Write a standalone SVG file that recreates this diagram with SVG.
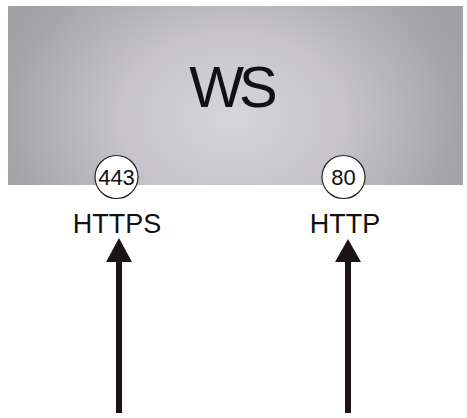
<svg xmlns="http://www.w3.org/2000/svg" width="467" height="418" viewBox="0 0 467 418">
  <style>
    .lbl { font-family: "Liberation Sans", Arial, sans-serif; fill: #111; text-anchor: middle; }
    .port { fill: #fff; stroke: #222; stroke-width: 1.2; }
    .conn { stroke: #1a1414; stroke-width: 6; fill: none; }
    .head { fill: #1a1414; }
  </style>
  <defs>
    <radialGradient id="ws-grad" gradientUnits="userSpaceOnUse" cx="0" cy="0" r="1" gradientTransform="translate(232 118) scale(250 190)">
      <stop offset="0" stop-color="#d6d5da"/>
      <stop offset="0.45" stop-color="#c6c4c8"/>
      <stop offset="0.9" stop-color="#a5a4a8"/>
      <stop offset="1" stop-color="#a2a1a5"/>
    </radialGradient>
  </defs>
  <rect width="467" height="418" fill="#fff"/>
  <g id="ws">
    <rect x="8" y="6" width="455" height="179" fill="url(#ws-grad)"/>
    <text class="lbl" x="231" y="107" font-size="58" letter-spacing="-5">WS</text>
  </g>
  <g id="port-443">
    <circle class="port" cx="116.5" cy="177" r="21.5"/>
    <text class="lbl" x="116.5" y="185" font-size="22">443</text>
  </g>
  <g id="port-80">
    <circle class="port" cx="343.5" cy="177" r="21.5"/>
    <text class="lbl" x="343.5" y="185" font-size="22">80</text>
  </g>
  <g id="https-label">
    <text class="lbl" x="117" y="233" font-size="27">HTTPS</text>
  </g>
  <g id="http-label">
    <text class="lbl" x="345" y="233" font-size="27">HTTP</text>
  </g>
  <g id="connectors">
    <line class="conn" x1="119" y1="413" x2="119" y2="259"/>
    <polygon class="head" points="119,238 132,262 106,262"/>
    <line class="conn" x1="348" y1="413" x2="348" y2="260"/>
    <polygon class="head" points="348,239 361,262 335,262"/>
  </g>
</svg>
